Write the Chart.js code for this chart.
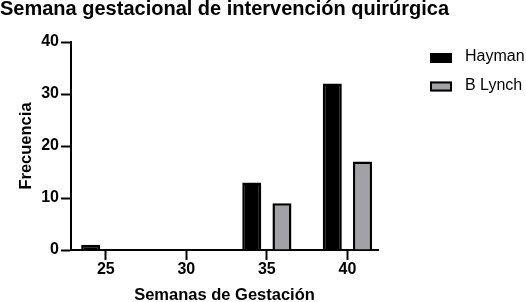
<!DOCTYPE html>
<html lang="es">
<head>
<meta charset="UTF-8">
<title>Semana gestacional</title>
<script src="https://cdn.jsdelivr.net/npm/chart.js"></script>
<style>
  html, body { margin: 0; padding: 0; background: #fff; }
  #wrap { width: 526px; height: 302px; }
</style>
</head>
<body>
<div id="wrap"><canvas id="mycanvas"></canvas></div>
<script>
// data
const weeks = [25, 30, 35, 40];
const hayman = [1, 0, 13, 32];
const bLynch = [0, 0, 9, 17];
const yTicks = [0, 10, 20, 30, 40];

const fam = "'Liberation Sans', Arial, sans-serif";

const axisGrid = {
    display: true,
    drawOnChartArea: false,
    drawTicks: true,
    tickLength: 10,
    tickWidth: 2,
    tickColor: '#000',
    offset: false
};

// legend drawn to the right of the plot, like the original
const sideLegend = {
    id: 'sideLegend',
    afterDraw(chart) {
        const ctx = chart.ctx;
        ctx.save();
        chart.data.datasets.forEach((ds, i) => {
            const top = 53 + i * 28.5;
            ctx.fillStyle = ds.backgroundColor;
            ctx.fillRect(430, top, 22, 10);
            ctx.lineWidth = 2;
            ctx.strokeStyle = ds.borderColor;
            ctx.strokeRect(431, top + 1, 20, 8);
            ctx.fillStyle = '#000';
            ctx.font = '16px ' + fam;
            ctx.textBaseline = 'middle';
            ctx.textAlign = 'left';
            ctx.fillText(ds.label, 465, top + 4);
        });
        ctx.restore();
    }
};

new Chart(document.getElementById('mycanvas'), {
    type: 'bar',
    data: {
        labels: weeks,
        datasets: [{
            label: 'Hayman',
            data: hayman,
            backgroundColor: '#000',
            borderColor: '#000',
            borderWidth: 2.5
        }, {
            label: 'B Lynch',
            data: bLynch,
            backgroundColor: '#a2a2a6',
            borderColor: '#000',
            borderWidth: 2.5
        }]
    },
    options: {
        responsive: true,
        maintainAspectRatio: false,
        animation: false,
        devicePixelRatio: 1,
        categoryPercentage: 0.75,
        barPercentage: 0.63,
        layout: { padding: 0 },
        plugins: {
            tooltip: { enabled: false },
            legend: { display: false },
            title: {
                display: true,
                text: 'Semana gestacional de intervención quirúrgica',
                align: 'start',
                color: '#000',
                font: { family: fam, size: 20, weight: 'bold', lineHeight: 0.9 },
                padding: { top: 0, bottom: 24 }
            }
        },
        scales: {
            x: {
                type: 'linear',
                min: 22.84,
                max: 41.9,
                offset: false,
                afterBuildTicks: s => { s.ticks = weeks.map(v => ({ value: v })); },
                afterFit: s => { s.height = 52; },
                grid: axisGrid,
                border: { color: '#000', width: 2 },
                ticks: { color: '#000', padding: 0, font: { family: fam, size: 16, weight: 'bold' } },
                title: {
                    display: true,
                    text: 'Semanas de Gestación',
                    color: '#000',
                    font: { family: fam, size: 16.5, weight: 'bold', lineHeight: 0.75 },
                    padding: { top: 10, bottom: 0 }
                }
            },
            y: {
                min: yTicks[0],
                max: yTicks[yTicks.length - 1],
                afterBuildTicks: s => { s.ticks = yTicks.map(v => ({ value: v })); },
                afterFit: s => { s.width = 71; },
                grid: axisGrid,
                border: { color: '#000', width: 2 },
                ticks: { color: '#000', padding: 2, font: { family: fam, size: 16, weight: 'bold' } },
                title: {
                    display: true,
                    text: 'Frecuencia',
                    color: '#000',
                    font: { family: fam, size: 16.5, weight: 'bold' },
                    padding: { top: 17, bottom: 5 }
                }
            },
            // empty axis that keeps the space for the legend on the right
            gap: {
                position: 'right',
                grid: { display: false },
                ticks: { display: false },
                border: { display: false },
                afterFit: s => { s.width = 148; }
            }
        }
    },
    plugins: [sideLegend]
});
</script>
</body>
</html>
